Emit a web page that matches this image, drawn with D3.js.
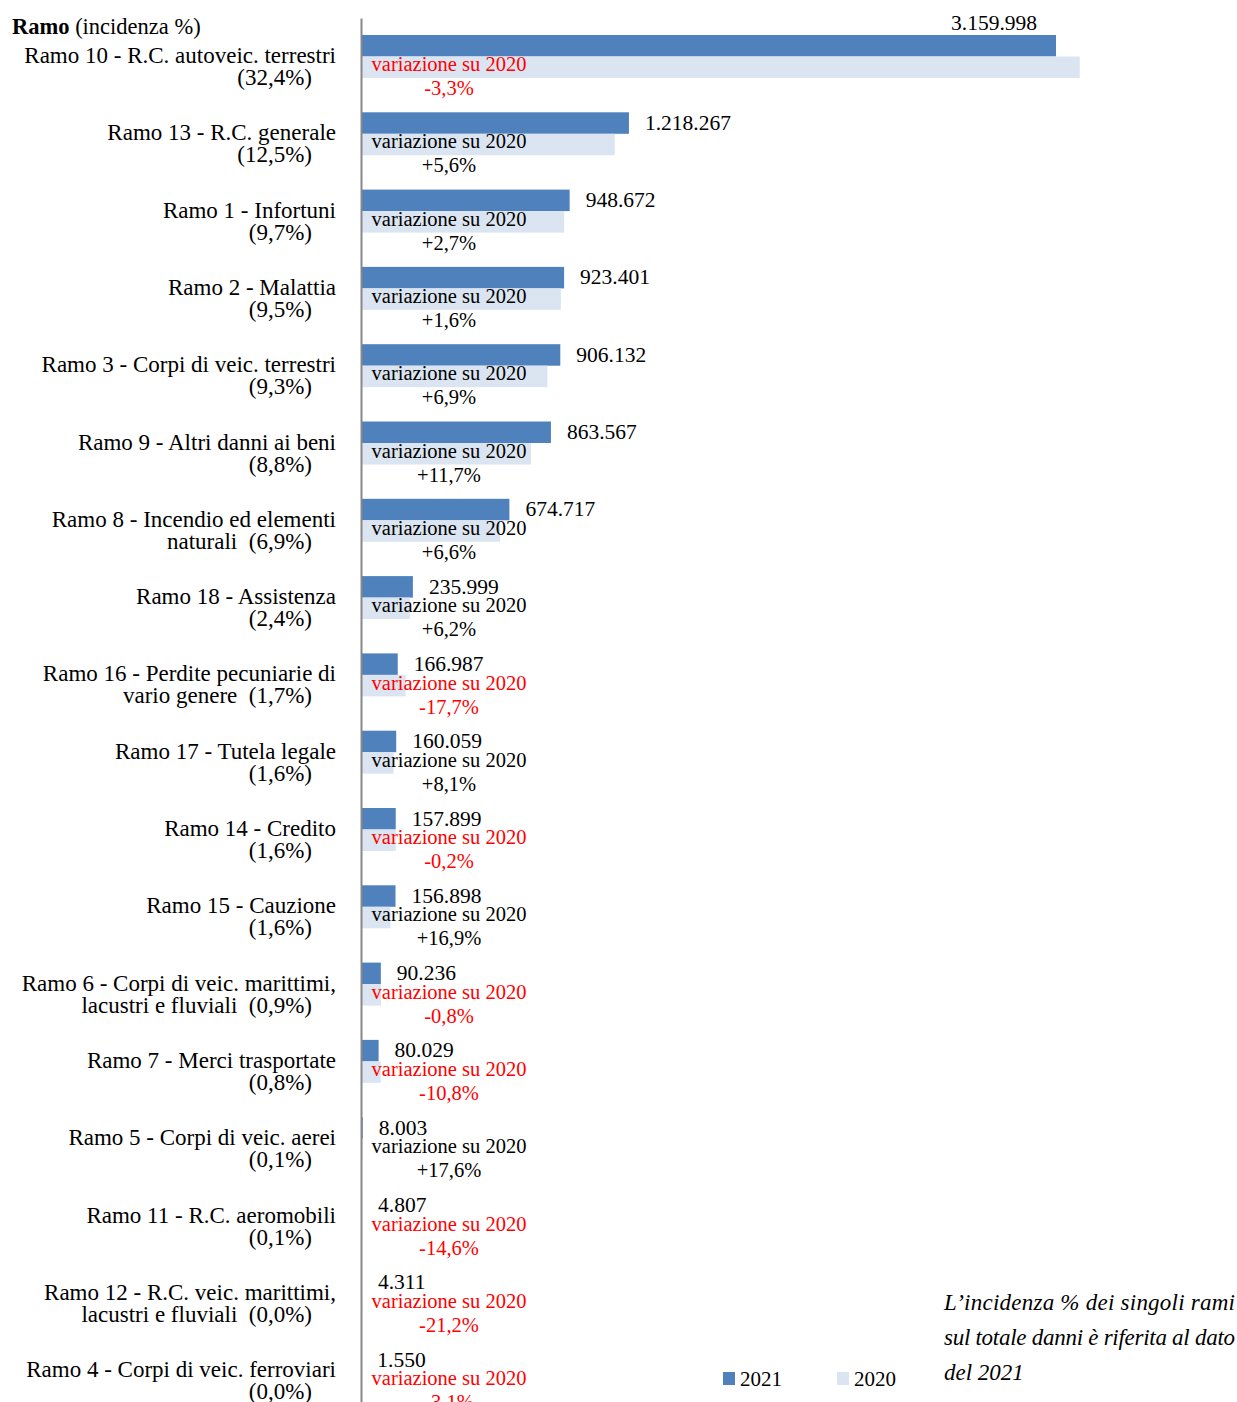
<!DOCTYPE html>
<html lang="it">
<head>
<meta charset="UTF-8">
<title>Premi rami danni 2021</title>
<script src="https://d3js.org/d3.v7.min.js"></script>
<style>
  body { margin: 0; background: #fff; }
  svg text { font-family: "Liberation Serif", "DejaVu Serif", serif; fill: #000; }
</style>
</head>
<body>
<div id="chart"></div>
<script>
// rami (a capo segnato con "|")
const categories = [
  "Ramo 10 - R.C. autoveic. terrestri",
  "Ramo 13 - R.C. generale",
  "Ramo 1 - Infortuni",
  "Ramo 2 - Malattia",
  "Ramo 3 - Corpi di veic. terrestri",
  "Ramo 9 - Altri danni ai beni",
  "Ramo 8 - Incendio ed elementi|naturali",
  "Ramo 18 - Assistenza",
  "Ramo 16 - Perdite pecuniarie di|vario genere",
  "Ramo 17 - Tutela legale",
  "Ramo 14 - Credito",
  "Ramo 15 - Cauzione",
  "Ramo 6 - Corpi di veic. marittimi,|lacustri e fluviali",
  "Ramo 7 - Merci trasportate",
  "Ramo 5 - Corpi di veic. aerei",
  "Ramo 11 - R.C. aeromobili",
  "Ramo 12 - R.C. veic. marittimi,|lacustri e fluviali",
  "Ramo 4 - Corpi di veic. ferroviari"
];
const incidenza = ["32,4%", "12,5%", "9,7%", "9,5%", "9,3%", "8,8%", "6,9%", "2,4%", "1,7%",
  "1,6%", "1,6%", "1,6%", "0,9%", "0,8%", "0,1%", "0,1%", "0,0%", "0,0%"];
const values2021 = [3159998, 1218267, 948672, 923401, 906132, 863567, 674717, 235999, 166987,
  160059, 157899, 156898, 90236, 80029, 8003, 4807, 4311, 1550];
const values2020 = [3267836, 1153662, 923731, 908859, 847644, 773112, 632943, 222221, 202900,
  148066, 158215, 134216, 90964, 89719, 6805, 5629, 5471, 1600];
const variazione = [-3.3, 5.6, 2.7, 1.6, 6.9, 11.7, 6.6, 6.2, -17.7, 8.1, -0.2, 16.9, -0.8,
  -10.8, 17.6, -14.6, -21.2, -3.1];
const seriesNames = ["2021", "2020"];
const note = ["L\u2019incidenza % dei singoli rami", "sul totale danni \u00e8 riferita al dato", "del 2021"];

const width = 1237, height = 1402;
const blue = "#4f81bd", light = "#dbe5f1", red = "#ff0000";

const it = d3.formatLocale({ decimal: ",", thousands: ".", grouping: [3], currency: ["", "\u20ac"], minus: "-" });
const fmtVal = it.format(",d");
const fmtVar = it.format("+.1f");

const data = categories.map((c, i) => ({
  cat: c, inc: incidenza[i], v21: values2021[i], v20: values2020[i], vr: variazione[i]
}));

const x = d3.scaleLinear().domain([0, 3500000]).range([361, 361 + 769.8]);
const y = d3.scaleBand().domain(categories).range([18, 18 + 18 * 77.3]).padding(0);

const svg = d3.select("#chart").append("svg")
  .attr("width", width).attr("height", height);

// header
const hdr = svg.append("text").attr("x", 12).attr("y", 26).attr("dy", "0.35em")
  .style("font-size", "22.5px");
hdr.append("tspan").attr("font-weight", "bold").text("Ramo");
hdr.append("tspan").text(" (incidenza %)");

const g = svg.selectAll("g.row").data(data).enter().append("g")
  .attr("class", "row")
  .attr("transform", d => "translate(0," + y(d.cat) + ")");

// bars
g.append("rect").attr("x", x(0)).attr("y", 17)
  .attr("width", d => x(d.v21) - x(0)).attr("height", 21.5).attr("fill", blue);
g.append("rect").attr("x", x(0)).attr("y", 38.5)
  .attr("width", d => x(d.v20) - x(0)).attr("height", 21.5).attr("fill", light);

// value labels
g.append("text")
  .attr("x", d => x(d.v21) > 900 ? x(d.v21) - 19 : x(d.v21) + 16)
  .attr("y", d => x(d.v21) > 900 ? 4 : 27)
  .attr("dy", "0.35em")
  .attr("text-anchor", d => x(d.v21) > 900 ? "end" : "start")
  .style("font-size", "21.5px")
  .text(d => fmtVal(d.v21));

// variation labels
g.append("text").attr("x", 449).attr("y", 46).attr("dy", "0.35em")
  .attr("text-anchor", "middle").style("font-size", "20.5px")
  .style("fill", d => d.vr < 0 ? red : "#000")
  .text("variazione su 2020");
g.append("text").attr("x", 449).attr("y", 70).attr("dy", "0.35em")
  .attr("text-anchor", "middle").style("font-size", "20.5px")
  .style("fill", d => d.vr < 0 ? red : "#000")
  .text(d => fmtVar(d.vr) + "%");

// category labels
g.append("text").attr("x", 336).attr("y", 37).attr("dy", "0.35em")
  .attr("text-anchor", "end").style("font-size", "23px")
  .text(d => d.cat.split("|")[0]);
g.append("text").attr("x", 312).attr("y", 59).attr("dy", "0.35em")
  .attr("text-anchor", "end").style("font-size", "23px")
  .text(d => {
    const p = d.cat.split("|");
    return (p.length > 1 ? p[1] + "\u00a0\u00a0" : "") + "(" + d.inc + ")";
  });

// axis line
const ax = svg.append("g").attr("transform", "translate(" + x(0) + ",0)")
  .call(d3.axisLeft(y).tickSize(0).tickSizeOuter(0).tickFormat(""));
ax.select(".domain").attr("stroke", "#888").attr("stroke-width", 2);

// legend
const legX = [723, 837];
const leg = svg.selectAll("g.leg").data(seriesNames).enter().append("g")
  .attr("class", "leg")
  .attr("transform", (d, i) => "translate(" + legX[i] + ",1372)");
leg.append("rect").attr("width", 12).attr("height", 13)
  .attr("fill", (d, i) => i === 0 ? blue : light);
leg.append("text").attr("x", 17).attr("y", 6.5).attr("dy", "0.35em")
  .style("font-size", "21px").text(d => d);

// note
svg.selectAll("text.note").data(note).enter().append("text")
  .attr("class", "note")
  .attr("x", 944).attr("y", (d, i) => 1302 + i * 35).attr("dy", "0.35em")
  .style("font-size", "23px").style("font-style", "italic")
  .attr("textLength", (d, i) => i < 2 ? 291 : null)
  .attr("lengthAdjust", "spacing")
  .text(d => d);
</script>
</body>
</html>
